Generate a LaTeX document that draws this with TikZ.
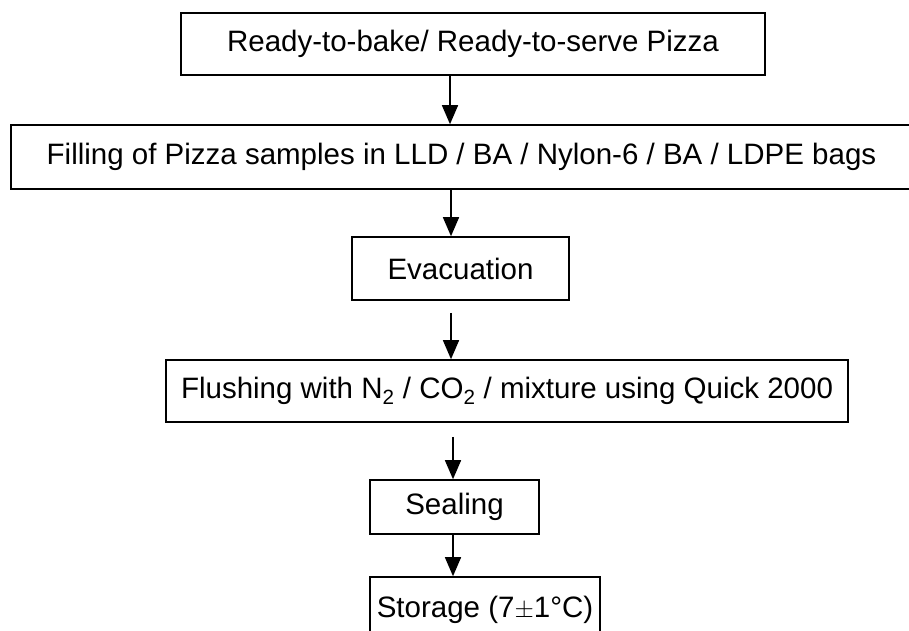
\documentclass[tikz,border=0pt]{standalone}
\usepackage{fontspec}
\setmainfont{Liberation Sans}
\usetikzlibrary{arrows.meta}
\begin{document}
\begin{tikzpicture}[x=1pt, y=-1pt, >={Triangle[length=19pt,width=16pt]},
    stepbox/.style={draw, line width=1.6pt, inner sep=0pt, font=\fontsize{29.5}{34}\selectfont},
    flow/.style={->, line width=1.5pt}]
  \useasboundingbox (0,0) rectangle (909,630);
  \clip (0,0) rectangle (909,630);
  % 1. Process steps (top to bottom)
  \node[stepbox, minimum width=584pt, minimum height=62pt] (pizza) at (473,44) {Ready-to-bake/ Ready-to-serve Pizza};
  \node[stepbox, minimum width=901pt, minimum height=64pt] (filling) at (461.5,157) {Filling of Pizza samples in LLD / BA / Nylon-6 / BA / LDPE bags};
  \node[stepbox, minimum width=217pt, minimum height=63pt] (evac) at (460.5,268.5) {Evacuation};
  \node[stepbox, minimum width=682pt, minimum height=62pt] (flush) at (507,391) {Flushing with N\textsubscript{2} / CO\textsubscript{2} / mixture using Quick 2000};
  \node[stepbox, minimum width=169pt, minimum height=54pt] (seal) at (454.5,507) {Sealing};
  \node[stepbox, minimum width=230pt, minimum height=66pt] (store) at (485,610) {Storage (7$\pm$1°C)};

  % 2. Arrows between the steps
  \draw[flow] (pizza.south -| 450,0) -- (filling.north -| 450,0);
  \draw[flow] (filling.south -| 451,0) -- (evac.north -| 451,0);
  \draw[flow, shorten <=12pt] (evac.south -| 451,0) -- (flush.north -| 451,0);
  \draw[flow, shorten <=14pt] (flush.south -| 453,0) -- (seal.north -| 453,0);
  \draw[flow] (seal.south -| 453,0) -- (store.north -| 453,0);
\end{tikzpicture}
\end{document}
